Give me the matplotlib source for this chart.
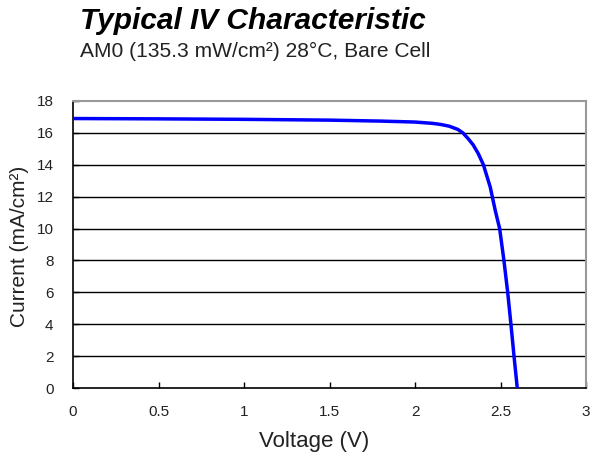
import matplotlib
matplotlib.use("Agg")
import matplotlib.pyplot as plt
import numpy as np

voltage = [0.0, 0.5, 1.0, 1.5, 1.8, 2.0, 2.1, 2.15, 2.2, 2.25, 2.28, 2.31, 2.34, 2.37, 2.4, 2.42, 2.44, 2.47, 2.495, 2.52, 2.542, 2.561, 2.579, 2.598]
current = [16.9, 16.88, 16.85, 16.8, 16.74, 16.68, 16.6, 16.53, 16.42, 16.22, 16.0, 15.65, 15.25, 14.7, 14.0, 13.3, 12.6, 11.1, 10.0, 8.0, 6.0, 4.0, 2.0, 0.0]
x_ticks = [0, 0.5, 1, 1.5, 2, 2.5, 3]
x_tick_labels = ["0", "0.5", "1", "1.5", "2", "2.5", "3"]
y_ticks = list(range(0, 19, 2))

plt.rcParams['font.family'] = ['Liberation Sans', 'DejaVu Sans']

fig = plt.figure(figsize=(5.9, 4.55), dpi=100)
ax = fig.add_axes([73/590, 1-388/455, (586-73)/590, (388-101)/455])

for y in y_ticks[1:-1]:
    ax.axhline(y, color='black', lw=1.0, zorder=1)

ax.plot(voltage, current, color='#0000FF', lw=2.5, zorder=3,
        solid_joinstyle='round', solid_capstyle='butt')

ax.set_xlim(0, 3)
ax.set_ylim(0, 18)
ax.set_xticks(x_ticks)
ax.set_xticklabels(x_tick_labels)
ax.set_yticks(y_ticks)
ax.tick_params(direction='in', length=4, width=1, labelsize=11, colors='black', labelcolor='#222222')
ax.tick_params(axis='x', pad=12)
ax.tick_params(axis='y', pad=14)
for s in ['left', 'bottom']:
    ax.spines[s].set_color('black')
    ax.spines[s].set_linewidth(1.2)
for s in ['top', 'right']:
    ax.spines[s].set_color('#999999')
    ax.spines[s].set_linewidth(1.5)

fig.text(314/590, 1-442/455, "Voltage (V)", fontsize=16, color='#222222', ha='center', va='center')
fig.text(20/590, 1-246/455, "Current (mA/cm²)", fontsize=15, color='#222222',
         ha='center', va='center', rotation=90)

fig.text(253/590, 1-29/455, "Typical IV Characteristic", fontsize=21.5, fontweight='bold',
         fontstyle='italic', ha='center', va='baseline', color='black')
fig.text(255/590, 1-57/455, "AM0 (135.3 mW/cm²) 28°C, Bare Cell", fontsize=15.1,
         ha='center', va='baseline', color='#222222')

fig.savefig("out.png", dpi=100)
